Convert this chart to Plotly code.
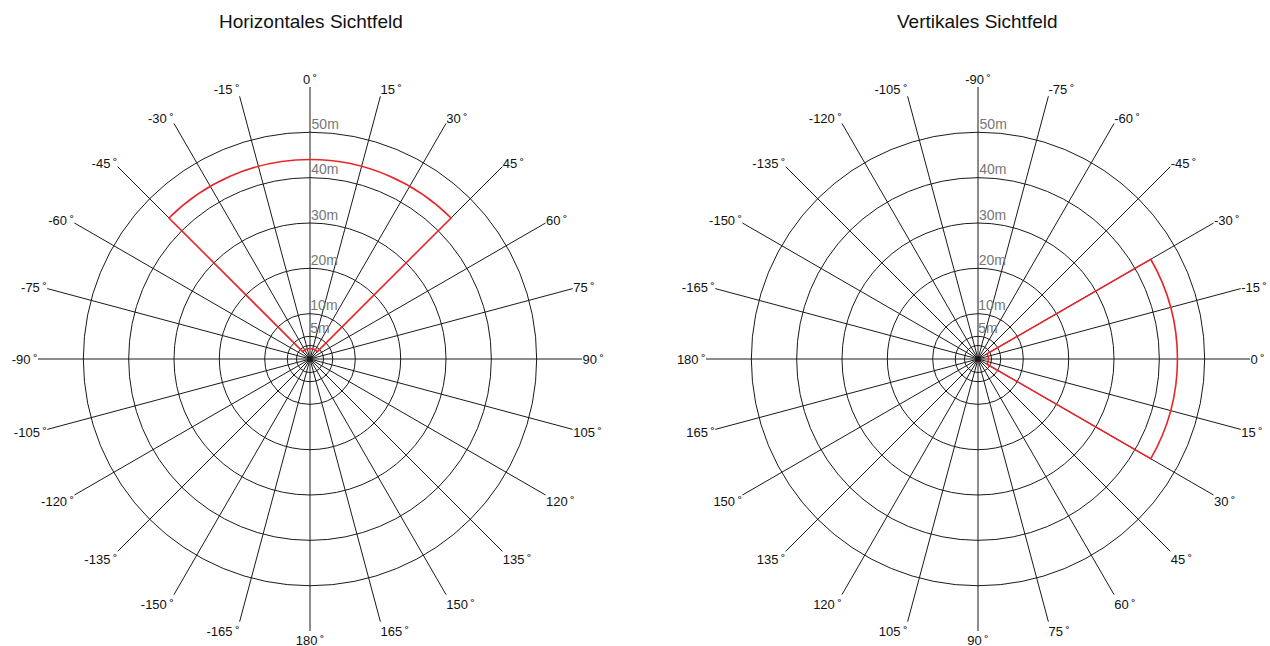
import plotly.graph_objects as go

# ---- data ----
titles = ["Horizontales Sichtfeld", "Vertikales Sichtfeld"]
angle_ticks = list(range(0, 360, 15))
angle_labels = [str(a) if a <= 180 else str(a - 360) for a in angle_ticks]
ring_values = [3, 5, 10, 20, 30, 40, 50]
ring_label_values = [5, 10, 20, 30, 40, 50]
ring_labels = ["5m", "10m", "20m", "30m", "40m", "50m"]
radial_max = 60

# field of view sectors (center angle, width in degrees, inner / outer range in m)
fov_center = [0, 0]
fov_width = [90, 60]
fov_inner = [2.3, 2.3]
fov_outer = [44, 44]

# orientation per chart: rotation of 0° and angle of label spoke
rotations = [90, 0]
label_theta = [0.4, 270.4]

FONT = "Liberation Sans, Arial, sans-serif"
GRID = "#1a1a1a"
RED = "#e8262a"

W, H = 1270, 646

fig = go.Figure()

deg = "\u2009\u02da"
ticktext = [t + deg for t in angle_labels]

for i in range(2):
    pid = "polar" if i == 0 else "polar2"
    fig.add_trace(go.Barpolar(
        r=[fov_outer[i] - fov_inner[i]], base=[fov_inner[i]],
        theta=[fov_center[i]], width=[fov_width[i]],
        marker=dict(color="rgba(0,0,0,0)", line=dict(color=RED, width=1.6)),
        subplot=pid, showlegend=False, hoverinfo="skip"))
    fig.add_trace(go.Scatterpolar(
        r=ring_label_values, theta=[label_theta[i]] * len(ring_label_values),
        mode="text", text=ring_labels, textposition="top right",
        textfont=dict(family=FONT, size=14, color="#777777"),
        subplot=pid, showlegend=False, hoverinfo="skip"))

polar_common = dict(
    bgcolor="rgba(0,0,0,0)",
    radialaxis=dict(range=[0, radial_max], tickvals=ring_values, showticklabels=False,
                    showline=False, ticks="", gridcolor=GRID, gridwidth=1),
    barmode="overlay",
)

ang_common = dict(direction="clockwise", tickvals=angle_ticks, ticktext=ticktext,
                  showline=False, ticks="", gridcolor=GRID, gridwidth=1,
                  tickfont=dict(family=FONT, size=13, color="#111"))

ydom = [15 / H, 559 / H]
fig.update_layout(
    width=W, height=H,
    margin=dict(l=0, r=0, t=0, b=0),
    paper_bgcolor="white", plot_bgcolor="white",
    font=dict(family=FONT, size=13, color="#111"),
    polar=dict(domain=dict(x=[38 / W, 582 / W], y=ydom),
               angularaxis=dict(rotation=rotations[0], **ang_common),
               **polar_common),
    polar2=dict(domain=dict(x=[706 / W, 1250 / W], y=ydom),
                angularaxis=dict(rotation=rotations[1], **ang_common),
                **polar_common),
    annotations=[
        dict(text=titles[0], x=311 / W, y=1 - 22 / H, xref="paper", yref="paper",
             xanchor="center", yanchor="middle",
             showarrow=False, font=dict(family=FONT, size=19, color="#111")),
        dict(text=titles[1], x=977 / W, y=1 - 22 / H, xref="paper", yref="paper",
             xanchor="center", yanchor="middle",
             showarrow=False, font=dict(family=FONT, size=19, color="#111")),
    ],
)

fig.write_html(
    "out.html",
    config={"displayModeBar": False},
    post_script="document.body.style.margin='0';document.body.style.overflow='hidden';",
)
